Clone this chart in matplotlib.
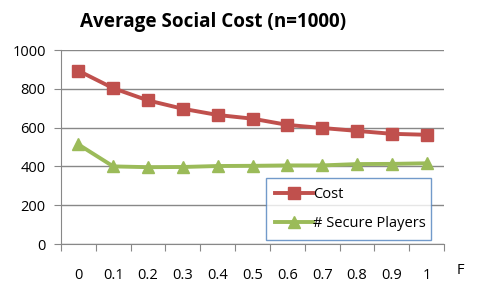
import matplotlib
matplotlib.use("Agg")
import matplotlib.pyplot as plt
import numpy as np

categories = ["0", "0.1", "0.2", "0.3", "0.4", "0.5", "0.6", "0.7", "0.8", "0.9", "1"]
cost = [893, 803, 740, 697, 665, 646, 614, 598, 583, 568, 563]
secure = [513, 400, 396, 397, 402, 403, 405, 405, 412, 413, 416]
yticks = [0, 200, 400, 600, 800, 1000]

plt.rcParams['font.family'] = ['Open Sans', 'DejaVu Sans']

fig = plt.figure(figsize=(4.95, 2.85), dpi=100)
ax = fig.add_axes([61/495, 1-244/285, (444-61)/495, (244-50)/285])

x = np.arange(len(categories))
ax.plot(x, cost, color='#C0504D', lw=2.8, marker='s', ms=8.5, label='Cost', zorder=3)
ax.plot(x, secure, color='#9BBB59', lw=2.8, marker='^', ms=8.5, label='# Secure Players', zorder=3)

ax.set_xlim(-0.5, len(categories)-0.5)
ax.set_ylim(0, 1000)
ax.set_yticks(yticks)
ax.set_yticklabels([str(v) for v in yticks], fontsize=10.5)
ax.yaxis.grid(True, color='#888888', lw=1)
ax.set_axisbelow(True)

ax.set_xticks(np.arange(-0.5, len(categories), 1.0))
ax.set_xticklabels([])
ax.set_xticks(x, minor=True)
ax.set_xticklabels(categories, minor=True, fontsize=10.5)
ax.tick_params(axis='x', which='major', length=5, color='#888888', direction='out')
ax.tick_params(axis='x', which='minor', length=0, pad=17)
ax.tick_params(axis='y', length=5, color='#888888', pad=6)

for s in ['top', 'right']:
    ax.spines[s].set_visible(False)
ax.spines['left'].set_color('#888888')
ax.spines['bottom'].set_color('#888888')

fig.text(213/495, 1-22/285, 'Average Social Cost (n=1000)', fontsize=13.6, fontweight='bold',
         ha='center', va='center')
fig.text(460/495, 1-270/285, 'F', fontsize=10.5, ha='center', va='center')

leg = ax.legend(loc='lower left', bbox_to_anchor=((266-61)/383, (244-240)/194, (431-266)/383, (240-182)/194),
                mode='expand', fontsize=10.5, frameon=True, fancybox=False, handlelength=2.6,
                handletextpad=0.05, borderaxespad=0, labelspacing=1.0, borderpad=0.6)
leg.get_frame().set_edgecolor('#4F81BD')
leg.get_frame().set_linewidth(1)

fig.savefig('out.png', dpi=100)
